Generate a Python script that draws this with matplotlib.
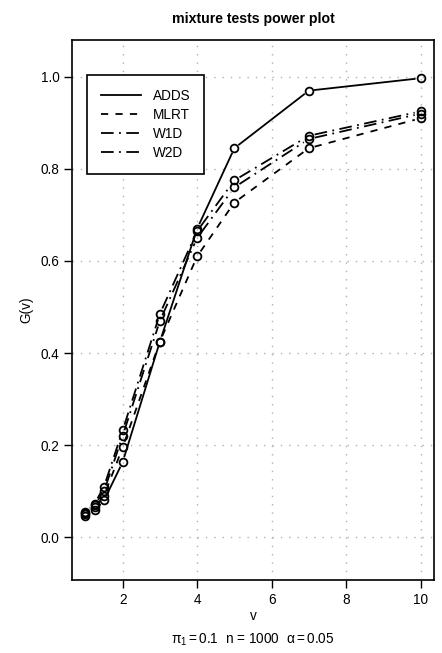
import numpy as np
import matplotlib
matplotlib.use("Agg")
import matplotlib.pyplot as plt

plt.rcParams['font.family'] = ['Liberation Sans', 'DejaVu Sans']
plt.rcParams['mathtext.fontset'] = 'custom'
plt.rcParams['mathtext.rm'] = 'Liberation Sans'
plt.rcParams['mathtext.it'] = 'Liberation Sans'

# data
v = [1, 1.25, 1.5, 2, 3, 4, 5, 7, 10]
adds = [0.047, 0.058, 0.080, 0.163, 0.425, 0.670, 0.845, 0.970, 0.997]
mlrt = [0.050, 0.065, 0.090, 0.195, 0.425, 0.610, 0.727, 0.845, 0.910]
w1d = [0.055, 0.073, 0.110, 0.232, 0.485, 0.665, 0.775, 0.872, 0.925]
w2d = [0.052, 0.070, 0.100, 0.220, 0.470, 0.650, 0.760, 0.865, 0.920]
names = ['ADDS', 'MLRT', 'W1D', 'W2D']
styles = ['-', (0, (4, 4)), (0, (7, 3, 1, 3)), (4, (1, 3, 7, 3))]

W, H = 442, 653
fig = plt.figure(figsize=(W / 100, H / 100), dpi=100)
ax = fig.add_axes([72 / W, 1 - 580 / H, (434 - 72) / W, (580 - 40) / H])
ax.set_xlim(0.64, 10.36)
ax.set_ylim(-0.093, 1.08)

FS = 9.8
LW = 1.3
gap = 6.0  # pixels left open round each point, like R type="b"
tr = ax.transData
inv = tr.inverted()
for y, name, ls in zip([adds, mlrt, w1d, w2d], names, styles):
	pts = tr.transform(np.column_stack([v, y]))
	for a, b in zip(pts[:-1], pts[1:]):
		d = b - a
		L = np.hypot(*d)
		if L <= 2 * gap:
			continue
		u = d / L
		seg = inv.transform(np.array([a + u * gap, b - u * gap]))
		ax.plot(seg[:, 0], seg[:, 1], color='black', lw=LW, ls=ls)
	ax.plot(v, y, 'o', mfc='none', mec='black', mew=1.3, ms=5.6, ls='none')
	ax.plot([], [], color='black', lw=LW, ls=ls, label=name)

ax.set_xticks([2, 4, 6, 8, 10])
ax.set_yticks([0.0, 0.2, 0.4, 0.6, 0.8, 1.0])
ax.set_yticklabels(['0.0', '0.2', '0.4', '0.6', '0.8', '1.0'])
ax.grid(True, color='#b0b0b0', ls=(0, (1, 5)), lw=1.0)
ax.tick_params(direction='out', length=6, width=1, labelsize=FS, pad=3)
for s in ax.spines.values():
	s.set_linewidth(1.2)

ax.set_xlabel('v', fontsize=FS, labelpad=2)
ax.set_ylabel('G(v)', fontsize=FS, labelpad=5)
ax.set_title('mixture tests power plot', fontsize=10.2, fontweight='bold', pad=12)

leg = ax.legend(loc='upper left', bbox_to_anchor=(0.0414, 0.935), borderaxespad=0,
	fontsize=FS, frameon=True, fancybox=False, edgecolor='black', framealpha=1,
	handlelength=3.0, handletextpad=0.85, borderpad=1.0, labelspacing=0.38)
leg.get_frame().set_linewidth(1.2)

fig.text((72 + 434) / 2 / W, 1 - 640 / H,
	r'$\pi_1 = 0.1$  n = 1000  $\alpha = 0.05$', ha='center', va='center', fontsize=FS)

fig.savefig('out.png', dpi=100)
